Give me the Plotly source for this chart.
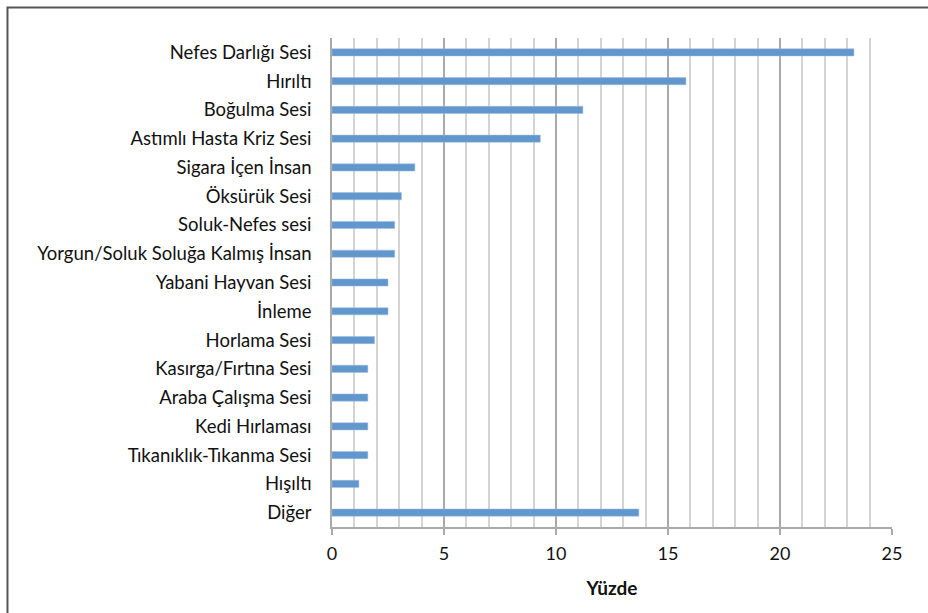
import plotly.graph_objects as go

# Sound categories (top to bottom) and their share in percent
categories = [
    "Nefes Darlığı Sesi",
    "Hırıltı",
    "Boğulma Sesi",
    "Astımlı Hasta Kriz Sesi",
    "Sigara İçen İnsan",
    "Öksürük Sesi",
    "Soluk-Nefes sesi",
    "Yorgun/Soluk Soluğa Kalmış İnsan",
    "Yabani Hayvan Sesi",
    "İnleme",
    "Horlama Sesi",
    "Kasırga/Fırtına Sesi",
    "Araba Çalışma Sesi",
    "Kedi Hırlaması",
    "Tıkanıklık-Tıkanma Sesi",
    "Hışıltı",
    "Diğer",
]
percentages = [23.3, 15.8, 11.2, 9.3, 3.7, 3.1, 2.8, 2.8, 2.5, 2.5, 1.9, 1.6, 1.6, 1.6, 1.6, 1.2, 13.7]
x_ticks = [0, 5, 10, 15, 20, 25]

FONT = "Lato, Carlito, Calibri, sans-serif"

fig = go.Figure(
    go.Bar(
        x=percentages,
        y=categories,
        orientation="h",
        marker=dict(color="#6197cd", line=dict(color="#9cbde0", width=0.5)),
        hoverinfo="x+y",
    )
)

fig.update_layout(
    width=928,
    height=613,
    margin=dict(l=332, r=36, t=38, b=86),
    paper_bgcolor="white",
    plot_bgcolor="white",
    bargap=0.75,
    showlegend=False,
    font=dict(family=FONT, size=18, color="#111111"),
    shapes=[
        # outer frame around the chart area
        dict(
            type="rect", xref="paper", yref="paper",
            x0=-0.5795, x1=1.2, y0=-0.3, y1=1.0625,
            line=dict(color="#555555", width=2), layer="below",
        )
    ],
)

fig.update_xaxes(
    range=[0, 25],
    tickvals=x_ticks,
    ticktext=[str(v) for v in x_ticks],
    showgrid=True,
    gridcolor="#aaaaaa",
    gridwidth=1.5,
    minor=dict(dtick=1, showgrid=True, gridcolor="#d4d4d4", gridwidth=1.5),
    showline=True,
    linecolor="#aaaaaa",
    linewidth=1.5,
    ticks="outside",
    ticklen=6,
    tickcolor="#aaaaaa",
    tickwidth=1.5,
    ticklabelstandoff=4,
    tickfont=dict(family=FONT, size=18, color="#111111"),
    title=dict(text="<b>Yüzde</b>", font=dict(family=FONT, size=19, color="#111111"), standoff=18),
    zeroline=False,
    fixedrange=True,
)

fig.update_yaxes(
    categoryorder="array",
    categoryarray=categories[::-1],
    showgrid=False,
    showline=True,
    linecolor="#aaaaaa",
    linewidth=1.5,
    ticks="",
    ticklabelstandoff=15,
    tickfont=dict(family=FONT, size=18.5, color="#111111"),
    fixedrange=True,
)

fig.write_html("out.html")
